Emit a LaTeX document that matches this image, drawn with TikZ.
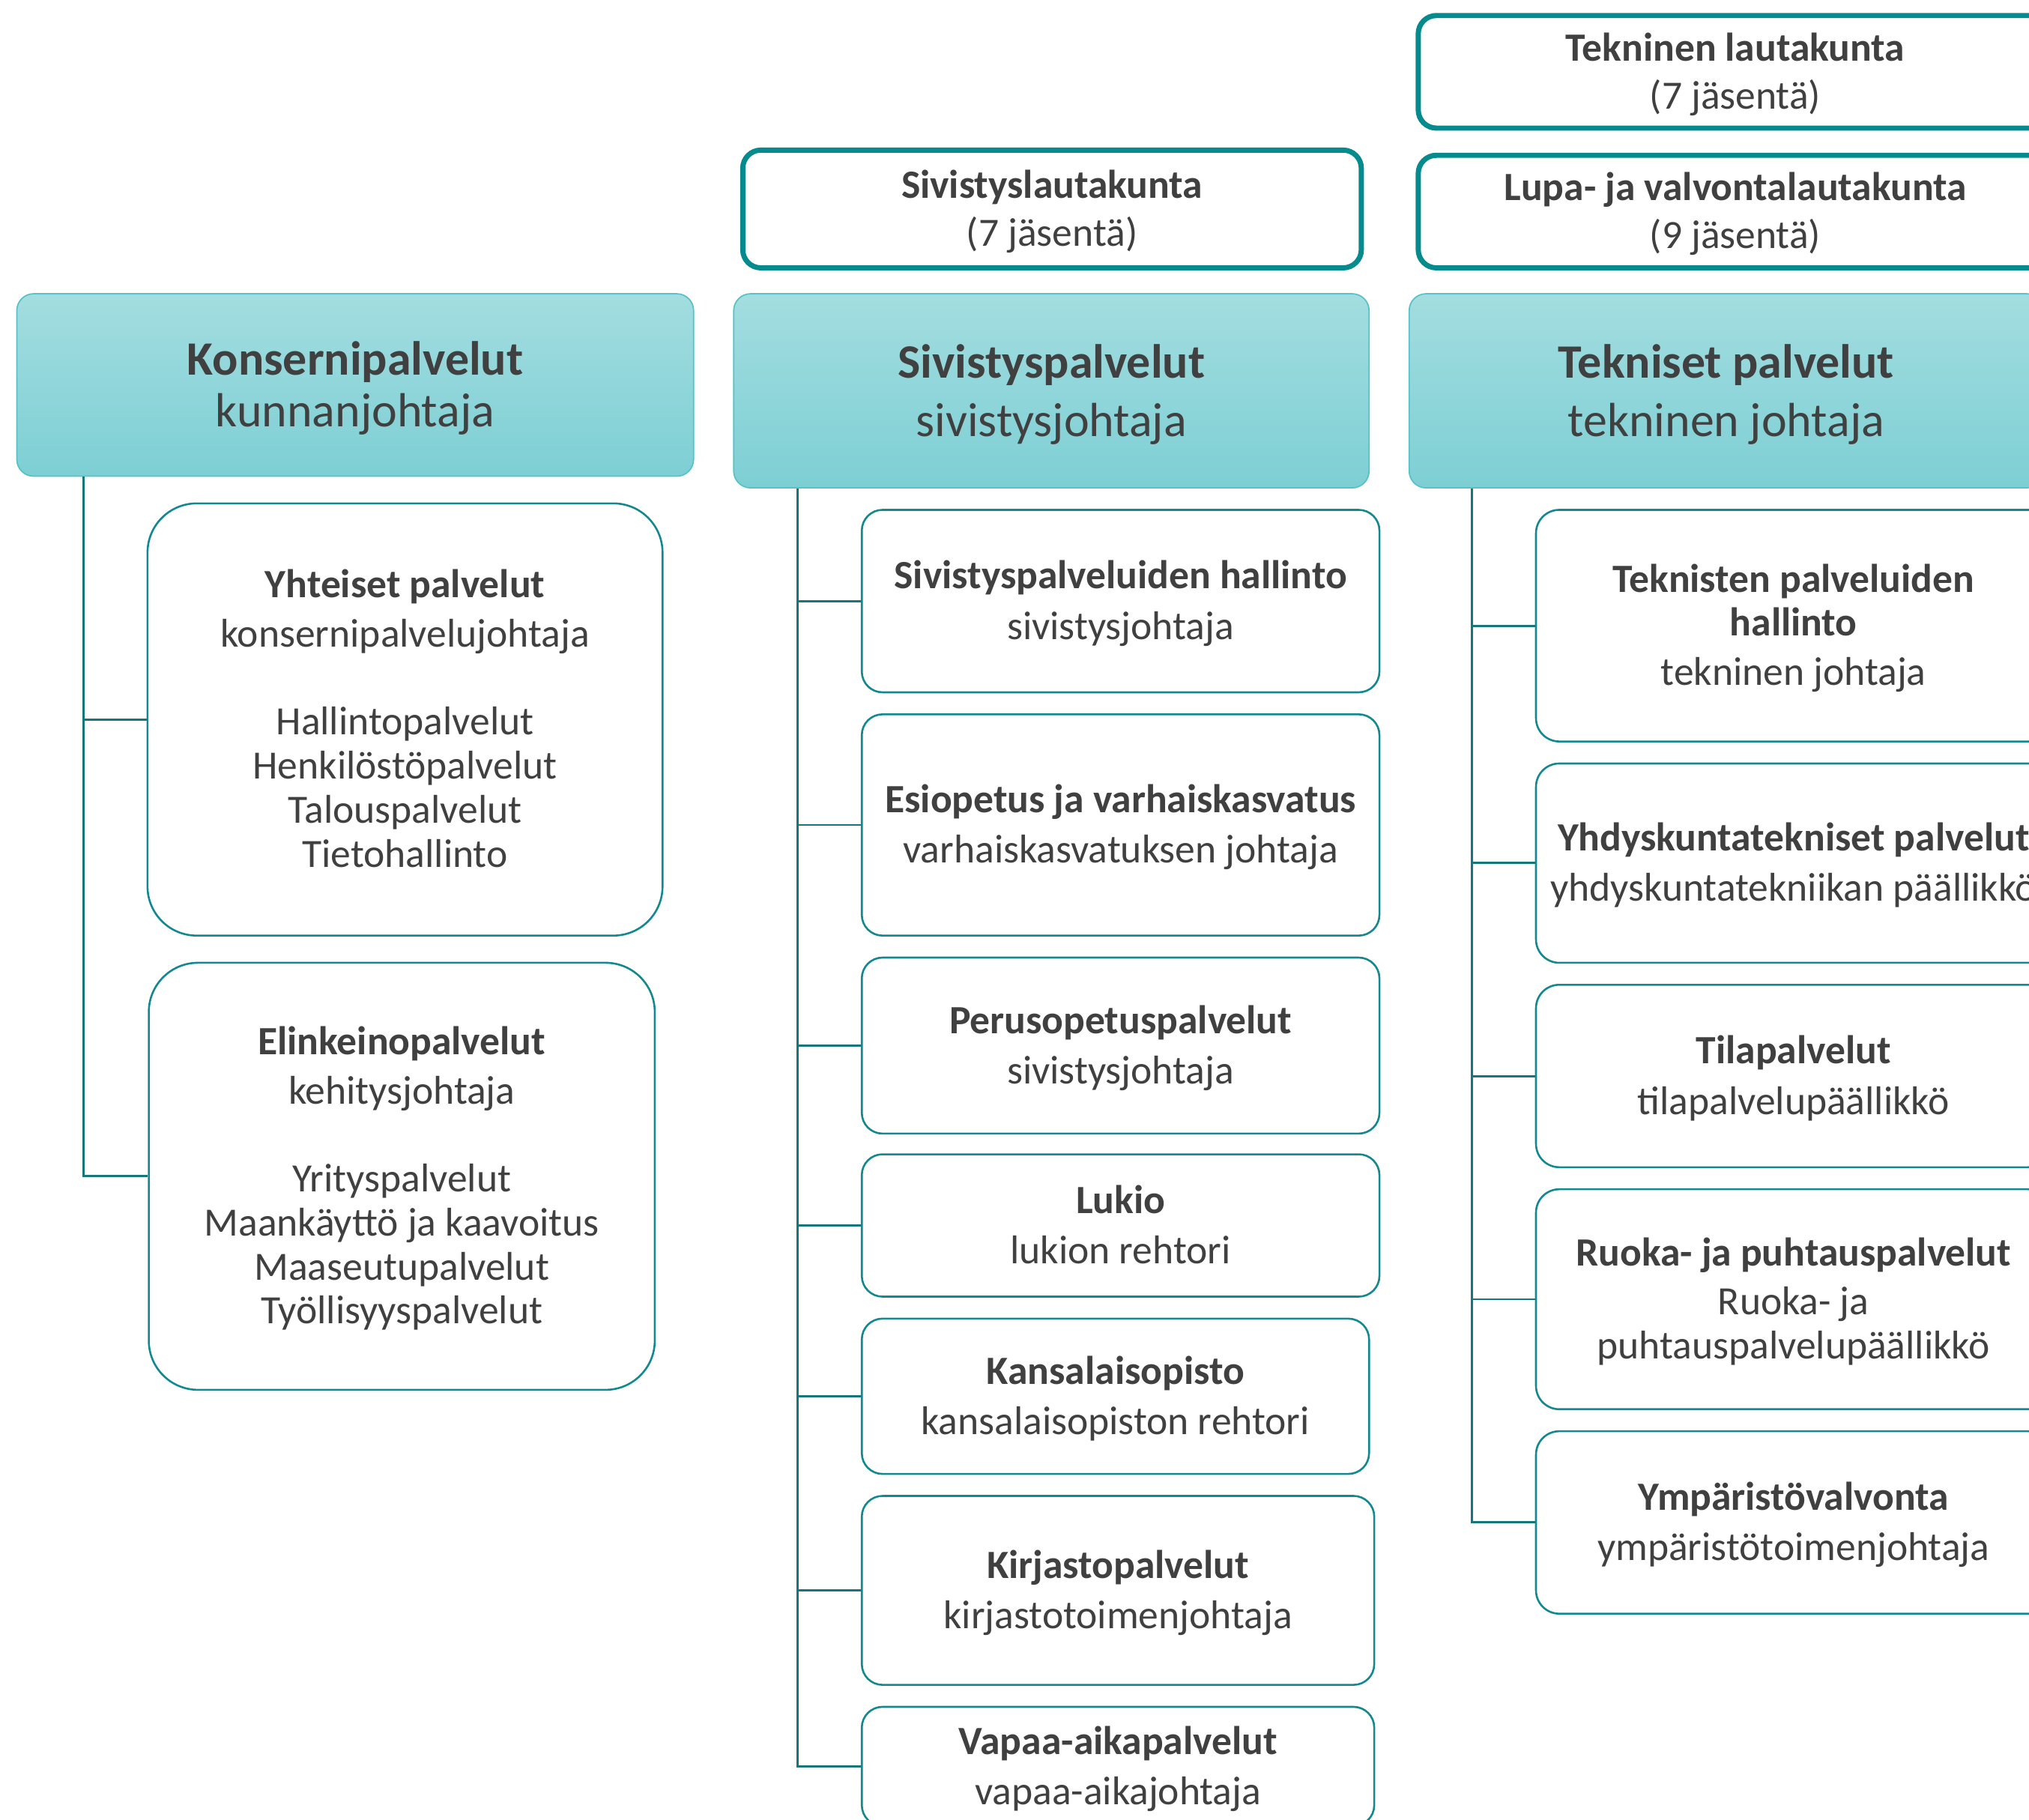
\documentclass[tikz,border=0pt]{standalone}
\usepackage{fontspec}
\setmainfont{Carlito}
\definecolor{txt}{HTML}{404040}
\definecolor{hdrtop}{HTML}{A3DDE0}
\definecolor{hdrbot}{HTML}{7DCFD4}
\definecolor{hdrline}{HTML}{55C2C8}
\definecolor{boardc}{HTML}{058A8D}
\definecolor{unitc}{HTML}{12898E}
\definecolor{connc}{HTML}{17767A}
\newcommand\bodyfont{\fontsize{31pt}{34pt}\selectfont}
\newcommand\hdrfontA{\fontsize{37pt}{40pt}\selectfont}
\newcommand\hdrfontB{\fontsize{37pt}{45pt}\selectfont}
% struts: first-line top and last-line bottom
\newcommand\bodytop{\rule{0pt}{26pt}}
\newcommand\bodybot{\rule[-6pt]{0pt}{0pt}}
\newcommand\hdrtopstrut{\rule{0pt}{33pt}}
\newcommand\hdrbotstrut{\rule[-8pt]{0pt}{0pt}}
\tikzset{
  hdr/.style={draw=hdrline, line width=1pt, rounded corners=13pt, top color=hdrtop, bottom color=hdrbot, inner sep=0pt, align=center, text=txt},
  board/.style={draw=boardc, line width=4pt, rounded corners=14pt, fill=white, inner sep=0pt, align=center, text=txt, font=\bodyfont},
  unitbox/.style={draw=unitc, line width=1.5pt, rounded corners=16pt, fill=white, inner sep=0pt, align=center, text=txt, font=\bodyfont},
  conn/.style={draw=connc, line width=1.7pt},
}
\begin{document}
\begin{tikzpicture}[x=1pt, y=-1pt]
\useasboundingbox (0,0) rectangle (1568,1406);
\clip (0,0) rectangle (1568,1406);
\fill[white] (0,0) rectangle (1568,1406);

% ---------- Column 1 ----------
\node[hdr, minimum width=523pt, minimum height=141pt, font=\hdrfontA] (konserni) at (274.5,297.5)
  {\hdrtopstrut\textbf{Konsernipalvelut}\\kunnanjohtaja\hdrbotstrut};
\node[unitbox, rounded corners=38pt, minimum width=398pt, minimum height=334pt] (yht) at (313,556)
  {\bodytop\textbf{Yhteiset palvelut}\\[4pt]konsernipalvelujohtaja\\[34pt]Hallintopalvelut\\Henkilöstöpalvelut\\Talouspalvelut\\Tietohallinto\bodybot};
\node[unitbox, rounded corners=38pt, minimum width=391pt, minimum height=330pt] (elk) at (310.5,909)
  {\bodytop\textbf{Elinkeinopalvelut}\\[4pt]kehitysjohtaja\\[34pt]Yrityspalvelut\\Maankäyttö ja kaavoitus\\Maaseutupalvelut\\Työllisyyspalvelut\bodybot};
\coordinate (k0) at ([xshift=52pt]konserni.south west);
\draw[conn] (k0) |- (yht.west);
\draw[conn] (k0) |- (elk.west);

% ---------- Column 2 ----------
\node[board, minimum width=478pt, minimum height=91pt] (sivlk) at (813,161.5)
  {\bodytop\textbf{Sivistyslautakunta}\\[3pt](7 jäsentä)\bodybot};
\node[hdr, minimum width=491pt, minimum height=150pt, font=\hdrfontB] (sivp) at (812.5,302)
  {\hdrtopstrut\textbf{Sivistyspalvelut}\\sivistysjohtaja\hdrbotstrut};
\node[unitbox, minimum width=400pt, minimum height=141pt] (s1) at (866,464.5)
  {\bodytop\textbf{Sivistyspalveluiden hallinto}\\[5pt]sivistysjohtaja\bodybot};
\node[unitbox, minimum width=400pt, minimum height=171pt] (s2) at (866,637.5)
  {\bodytop\textbf{Esiopetus ja varhaiskasvatus}\\[5pt]varhaiskasvatuksen johtaja\bodybot};
\node[unitbox, minimum width=400pt, minimum height=136pt] (s3) at (866,808)
  {\bodytop\textbf{Perusopetuspalvelut}\\[5pt]sivistysjohtaja\bodybot};
\node[unitbox, minimum width=400pt, minimum height=110pt] (s4) at (866,947)
  {\bodytop\textbf{Lukio}\\[5pt]lukion rehtori\bodybot};
\node[unitbox, minimum width=392pt, minimum height=120pt] (s5) at (862,1079)
  {\bodytop\textbf{Kansalaisopisto}\\[5pt]kansalaisopiston rehtori\bodybot};
\node[unitbox, minimum width=396pt, minimum height=146pt] (s6) at (864,1229)
  {\bodytop\textbf{Kirjastopalvelut}\\[5pt]kirjastotoimenjohtaja\bodybot};
\node[unitbox, minimum width=396pt, minimum height=92pt] (s7) at (864,1365)
  {\bodytop\textbf{Vapaa-aikapalvelut}\\[5pt]vapaa-aikajohtaja\bodybot};
\coordinate (s0) at ([xshift=50pt]sivp.south west);
\foreach \n in {s1,s2,s3,s4,s5,s6,s7} { \draw[conn] (s0) |- (\n.west); }

% ---------- Column 3 ----------
\node[board, minimum width=490pt, minimum height=87pt] (teklk) at (1341,55.5)
  {\bodytop\textbf{Tekninen lautakunta}\\[3pt](7 jäsentä)\bodybot};
\node[board, minimum width=490pt, minimum height=87pt] (lupalk) at (1341,163.5)
  {\bodytop\textbf{Lupa- ja valvontalautakunta}\\[3pt](9 jäsentä)\bodybot};
\node[hdr, minimum width=490pt, minimum height=150pt, font=\hdrfontB] (tekp) at (1334,302)
  {\hdrtopstrut\textbf{Tekniset palvelut}\\tekninen johtaja\hdrbotstrut};
\node[unitbox, rounded corners=18pt, minimum width=398pt, minimum height=179pt] (t1) at (1386,483.5)
  {\bodytop\textbf{Teknisten palveluiden}\\\textbf{hallinto}\\[4pt]tekninen johtaja\bodybot};
\node[unitbox, rounded corners=18pt, minimum width=398pt, minimum height=154pt] (t2) at (1386,667)
  {\bodytop\textbf{Yhdyskuntatekniset palvelut}\\[5pt]yhdyskuntatekniikan päällikkö\bodybot};
\node[unitbox, rounded corners=18pt, minimum width=398pt, minimum height=141pt] (t3) at (1386,831.5)
  {\bodytop\textbf{Tilapalvelut}\\[5pt]tilapalvelupäällikkö\bodybot};
\node[unitbox, rounded corners=18pt, minimum width=398pt, minimum height=170pt] (t4) at (1386,1004)
  {\bodytop\textbf{Ruoka- ja puhtauspalvelut}\\[4pt]Ruoka- ja\\puhtauspalvelupäällikkö\bodybot};
\node[unitbox, rounded corners=18pt, minimum width=398pt, minimum height=141pt] (t5) at (1386,1176.5)
  {\bodytop\textbf{Ympäristövalvonta}\\[5pt]ympäristötoimenjohtaja\bodybot};
\coordinate (t0) at ([xshift=49pt]tekp.south west);
\foreach \n in {t1,t2,t3,t4,t5} { \draw[conn] (t0) |- (\n.west); }
\end{tikzpicture}
\end{document}
